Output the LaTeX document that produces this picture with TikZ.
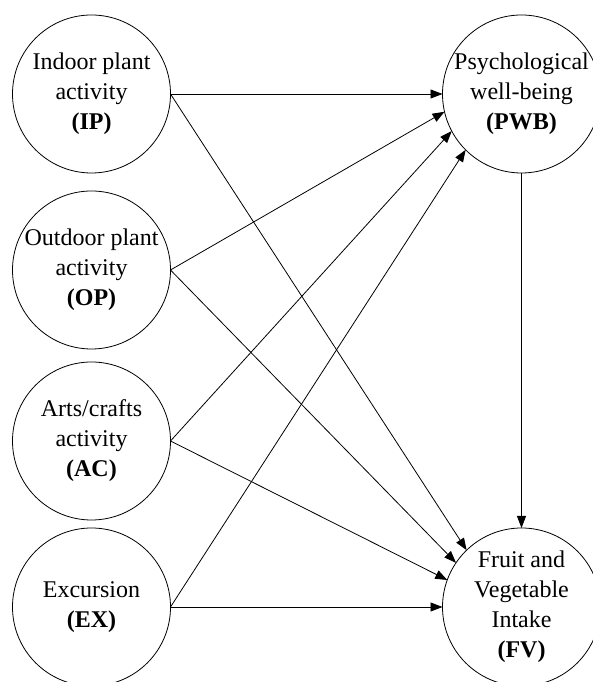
\documentclass[tikz,border=0pt]{standalone}
\usepackage{fontspec}
\setmainfont{Liberation Serif}
\usetikzlibrary{positioning,arrows.meta}

\begin{document}
\begin{tikzpicture}[
    x=1pt, y=1pt,
    factor/.style={
        draw,
        circle,
        align=center,
        minimum size=158pt,
        inner sep=-3pt,
        outer sep=0pt,
        line width=0.8pt,
        font=\fontsize{24}{30}\selectfont
    },
    arrow/.style={
        -{Triangle[length=12pt,width=9pt]},
        line width=0.8pt
    }
]
\useasboundingbox (0,0) rectangle (593,682);
\node[factor] (IP) at (91.5,588)
{Indoor plant\\
activity\\
\textbf{(IP)}};
\node[factor, below=18pt of IP] (OP)
{Outdoor plant\\
activity\\
\textbf{(OP)}};
\node[factor, below=13pt of OP] (AC)
{Arts/crafts\\
activity\\
\textbf{(AC)}};
\node[factor, below=8pt of AC] (EX)
{Excursion\\
\textbf{(EX)}};
\node[factor, right=272pt of IP] (PWB)
{Psychological\\
well-being\\
\textbf{(PWB)}};
\node[factor, below=355pt of PWB] (FV)
{Fruit and\\
Vegetable\\
Intake\\
\textbf{(FV)}};
\draw[arrow] (IP.east) -- (PWB.180);
\draw[arrow] (IP.east) -- (FV.134);
\draw[arrow] (OP.east) -- (PWB.193);
\draw[arrow] (OP.east) -- (FV.146);
\draw[arrow] (AC.east) -- (PWB.208);
\draw[arrow] (AC.east) -- (FV.160);
\draw[arrow] (EX.east) -- (PWB.225);
\draw[arrow] (EX.east) -- (FV.180);
\draw[arrow] (PWB) -- (FV);
\end{tikzpicture}
\end{document}
